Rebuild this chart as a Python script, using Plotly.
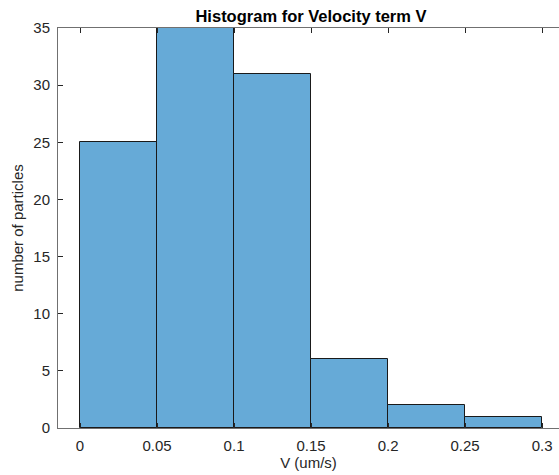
import plotly.graph_objects as go

bin_left = [0.0, 0.05, 0.10, 0.15, 0.20, 0.25]
bin_width = 0.05
counts = [25, 35, 31, 6, 2, 1]
x_tick_vals = [0, 0.05, 0.1, 0.15, 0.2, 0.25, 0.3]
x_tick_text = ["0", "0.05", "0.1", "0.15", "0.2", "0.25", "0.3"]
y_tick_vals = [0, 5, 10, 15, 20, 25, 30, 35]

centers = [b + bin_width / 2 for b in bin_left]

fig = go.Figure(go.Bar(
    x=centers, y=counts, width=[bin_width] * len(counts),
    marker=dict(color="#66AAD7", line=dict(color="#1a1a1a", width=1)),
))

font_fam = "Liberation Sans, Arial, sans-serif"
axis_col = "#707070"

fig.update_layout(
    width=559, height=475,
    margin=dict(l=58, r=0, t=28, b=47),
    plot_bgcolor="white", paper_bgcolor="white",
    showlegend=False,
    bargap=0,
    title=dict(text="<b>Histogram for Velocity term V</b>", x=311 / 559, xanchor="center",
               y=1 - 16 / 475, yanchor="middle",
               font=dict(family=font_fam, size=16.5, color="#000000")),
    font=dict(family=font_fam, size=15, color="#262626"),
)
fig.update_xaxes(
    range=[-0.0143, 0.311], tickvals=x_tick_vals, ticktext=x_tick_text,
    showgrid=False, zeroline=False, showline=True, linecolor=axis_col, linewidth=1,
    mirror="ticks", ticks="inside", ticklen=5, tickcolor="#262626",
    ticklabelstandoff=4,
    title=dict(text="V (um/s)", standoff=2, font=dict(size=15, color="#262626")),
)
fig.update_yaxes(
    range=[0, 35], tickvals=y_tick_vals,
    showgrid=False, zeroline=False, showline=True, linecolor=axis_col, linewidth=1,
    ticks="inside", ticklen=5, tickcolor="#262626",
    ticklabelstandoff=4,
    title=dict(text="number of particles", standoff=6, font=dict(size=15, color="#262626")),
)

fig.write_html("out.html")
